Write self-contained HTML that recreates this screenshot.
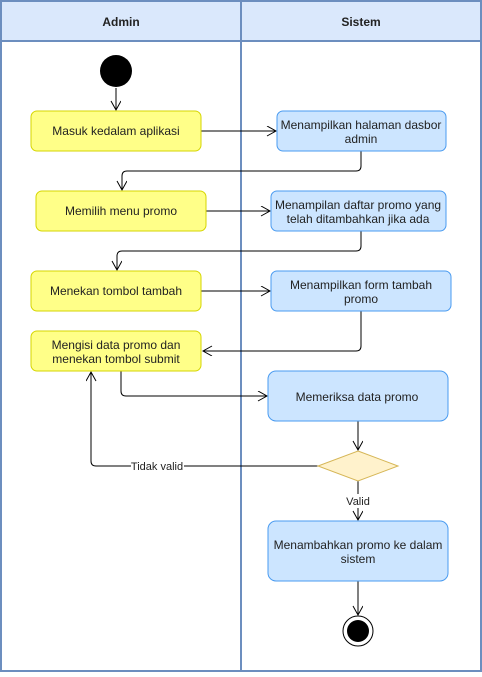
<!DOCTYPE html>
<html><head><style>body{margin:0;background:#fff}svg text{font-family:"Liberation Sans",Arial,sans-serif}</style></head><body>
<svg width="482" height="672" xmlns="http://www.w3.org/2000/svg">
<defs><marker id="a" markerWidth="12" markerHeight="12" refX="10" refY="5" orient="auto" markerUnits="userSpaceOnUse"><path d="M1,0 L10,5 L1,10" fill="none" stroke="#000" stroke-width="1"/></marker></defs>
<rect x="1" y="1" width="480" height="670" fill="#fff" stroke="#6c8ebf" stroke-width="2"/>
<rect x="1" y="1" width="480" height="40" fill="#dae8fc" stroke="#6c8ebf" stroke-width="2"/>
<line x1="241" y1="1" x2="241" y2="671" stroke="#6c8ebf" stroke-width="2"/>
<text x="121" y="26" font-size="12" font-weight="bold" text-anchor="middle" fill="#222">Admin</text>
<text x="361" y="26" font-size="12" font-weight="bold" text-anchor="middle" fill="#222">Sistem</text>
<circle cx="116" cy="71" r="16" fill="#000"/>
<g fill="none" stroke="#000" stroke-width="1" marker-end="url(#a)">
<path d="M116,88 V110"/>
<path d="M201,131 H276"/>
<path d="M361,151 V166 Q361,171 356,171 H127 Q122,171 122,176 V190"/>
<path d="M206,211 H270"/>
<path d="M361,231 V246 Q361,251 356,251 H122 Q117,251 117,256 V270"/>
<path d="M201,291 H270"/>
<path d="M361,311 V346 Q361,351 356,351 H203"/>
<path d="M121,371 V391 Q121,396 126,396 H267"/>
<path d="M358,421 V450"/>
<path d="M318,466 H96 Q91,466 91,461 V372"/>
<path d="M358,481 V520"/>
<path d="M358,581 V615"/>
</g>
<g font-size="12" fill="#222" text-anchor="middle">
<rect x="31" y="111" width="170" height="40" rx="6" fill="#ffff88" stroke="#d6d600"/>
<text x="116" y="135">Masuk kedalam aplikasi</text>
<rect x="277" y="111" width="169" height="40" rx="6" fill="#cce5ff" stroke="#4a9bf0"/>
<text x="361" y="129">Menampilkan halaman dasbor</text><text x="361" y="143">admin</text>
<rect x="36" y="191" width="170" height="40" rx="6" fill="#ffff88" stroke="#d6d600"/>
<text x="121" y="215">Memilih menu promo</text>
<rect x="271" y="191" width="175" height="40" rx="6" fill="#cce5ff" stroke="#4a9bf0"/>
<text x="358" y="209">Menampilan daftar promo yang</text><text x="358" y="223">telah ditambahkan jika ada</text>
<rect x="31" y="271" width="170" height="40" rx="6" fill="#ffff88" stroke="#d6d600"/>
<text x="116" y="295">Menekan tombol tambah</text>
<rect x="271" y="271" width="180" height="40" rx="6" fill="#cce5ff" stroke="#4a9bf0"/>
<text x="361" y="289">Menampilkan form tambah</text><text x="361" y="303">promo</text>
<rect x="31" y="331" width="170" height="40" rx="6" fill="#ffff88" stroke="#d6d600"/>
<text x="116" y="349">Mengisi data promo dan</text><text x="116" y="363">menekan tombol submit</text>
<rect x="268" y="371" width="180" height="50" rx="8" fill="#cce5ff" stroke="#4a9bf0"/>
<text x="357" y="401">Memeriksa data promo</text>
<path d="M358,451 L398,466 L358,481 L318,466 Z" fill="#fff2cc" stroke="#d6b656"/>
<rect x="268" y="521" width="180" height="60" rx="8" fill="#cce5ff" stroke="#4a9bf0"/>
<text x="358" y="549">Menambahkan promo ke dalam</text><text x="358" y="563">sistem</text>
</g>
<rect x="131" y="459" width="53" height="14" fill="#fff"/>
<text x="157" y="470" font-size="11" text-anchor="middle" fill="#222">Tidak valid</text>
<rect x="344" y="494" width="28" height="14" fill="#fff"/>
<text x="358" y="505" font-size="11" text-anchor="middle" fill="#222">Valid</text>
<circle cx="358" cy="631" r="15" fill="#fff" stroke="#000" stroke-width="1"/>
<circle cx="358" cy="631" r="11" fill="#000"/>
</svg>
</body></html>
